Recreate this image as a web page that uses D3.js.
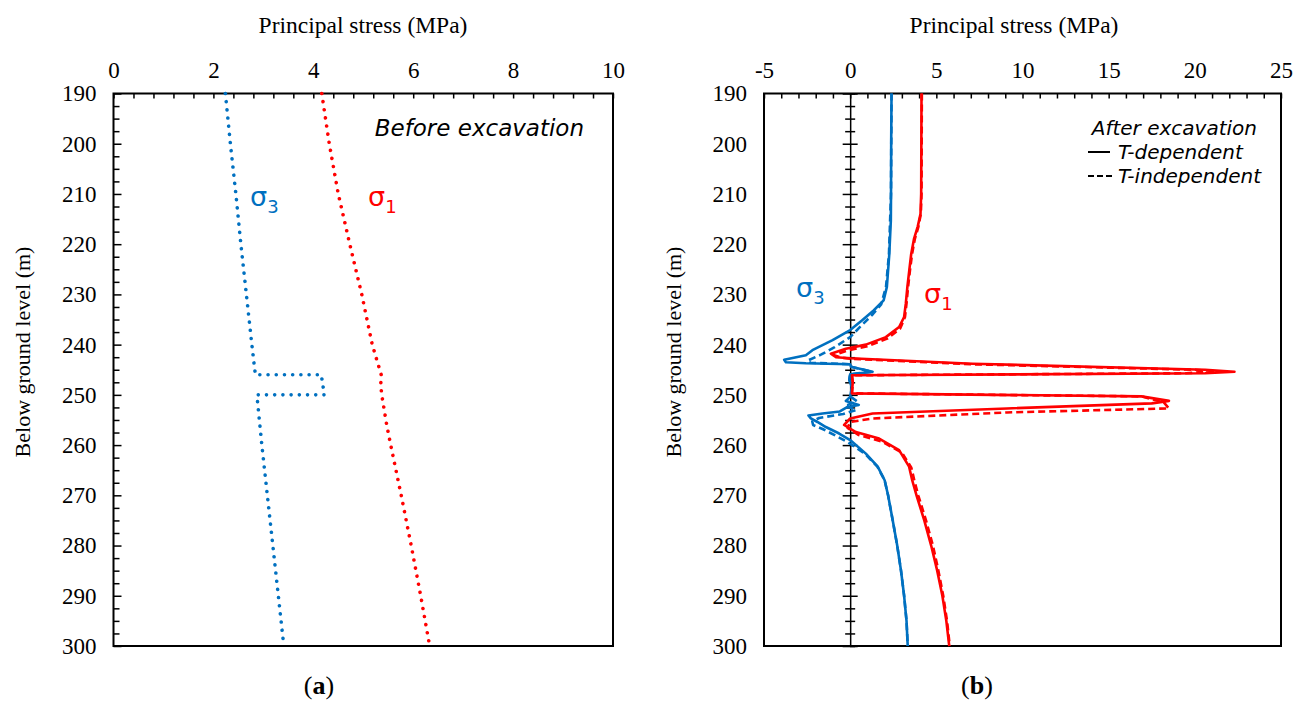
<!DOCTYPE html>
<html><head><meta charset="utf-8">
<script src="https://cdn.jsdelivr.net/npm/d3@7"></script>
<style>body{margin:0;background:#fff}svg{display:block}</style>
</head><body>
<script>
// ---------- data ----------
const depthTicks = [190,200,210,220,230,240,250,260,270,280,290,300];
const stressTicksA = [0,2,4,6,8,10];
const stressTicksB = [-5,0,5,10,15,20,25];

// (a) before excavation
const depthS3Before = [190,200,210,220,230,240,246,246,250,250,260,270,280,290,300];
const s3Before      = [2.24,2.34,2.45,2.55,2.66,2.77,2.84,4.16,4.22,2.87,2.97,3.08,3.19,3.30,3.41];
const depthS1Before = [190,200,210,220,230,240,246,248,250,256,260,270,280,290,300];
const s1Before      = [4.17,4.32,4.50,4.73,4.97,5.18,5.36,5.35,5.37,5.47,5.55,5.76,5.96,6.15,6.33];

// (b) after excavation
const depthS3Dep = [190,200,210,215.3,222,228.5,231.2,233.2,235.2,237.1,239.1,241.1,242.1,243.0,243.5,243.7,243.9,244.4,245.4,245.9,247,248.5,250.4,251.2,252,252.4,253.3,253.7,254.1,254.7,255.4,256.4,257.7,259,261.7,264.3,267,270,275,280,285,290,295,300];
const s3Dep      = [2.4,2.38,2.37,2.36,2.27,2.13,1.94,1.36,0.68,0.0,-1.02,-2.19,-2.57,-3.83,-3.73,-2.57,0.0,0.05,1.3,0.0,-0.05,0.1,0.0,-0.25,0.5,-0.15,-0.6,-1.6,-2.42,-2.28,-1.9,-1.41,-0.64,0.0,0.91,1.6,2.0,2.2,2.47,2.73,2.95,3.13,3.27,3.34];
const depthS3Indep = [190,210,222,228.5,232,234,236.2,238.5,240.5,242,243.2,243.6,243.9,244.4,245.4,245.9,247,248.5,250.4,251.3,252.2,253,253.8,254.6,255.3,256,256.8,258,259.5,261.7,264.3,267,270,275,280,285,290,295,300];
const s3Indep      = [2.4,2.37,2.25,2.08,1.8,1.3,0.65,0.0,-0.9,-1.7,-2.48,-2.3,0.0,0.05,1.25,0.0,-0.05,0.1,0.05,0.4,-0.3,0.35,-0.4,-1.8,-2.2,-2.15,-1.6,-0.9,-0.1,0.85,1.58,2.0,2.2,2.47,2.73,2.95,3.13,3.27,3.34];
const depthS1Dep = [190,200,210,214,216.5,219,222,225.2,228.5,231.8,234.5,236.5,238.5,240,240.8,241.8,242.5,242.7,243.8,245.0,245.4,245.7,246.1,247.5,249.7,250.3,251.2,251.7,252.7,253.7,254.7,256,257.4,258.7,261,264.3,267,270,275,280,285,290,295,300];
const s1Dep      = [4.14,4.13,4.12,4.08,3.92,3.7,3.54,3.43,3.32,3.23,3.13,2.84,2.07,0.91,-0.25,-1.12,-0.82,0.0,7.1,20.6,22.3,20.6,0.1,0.15,0.1,16.9,18.5,17.5,9.1,1.3,0.0,-0.35,0.33,1.68,2.84,3.42,3.6,3.85,4.3,4.7,5.05,5.35,5.58,5.75];
const depthS1Indep = [190,200,210,214,216.5,219,222,225.2,228.5,231.8,234.5,236.8,238.8,240.3,241.2,242.1,242.6,242.8,243.9,245.0,245.3,245.7,246.1,247.5,249.7,250.3,251.5,252.7,253.5,254.7,255.4,256.6,258,259.3,261.5,264.5,267,270,275,280,285,290,295,300];
const s1Indep      = [4.16,4.15,4.14,4.1,3.96,3.75,3.59,3.47,3.36,3.27,3.18,2.9,2.15,1.0,-0.2,-0.93,-0.5,0.0,7.0,20.0,21.2,19.5,0.1,0.15,0.1,16.9,18.2,18.5,9.1,1.3,0.0,-0.15,0.5,1.85,3.0,3.55,3.72,3.95,4.4,4.8,5.12,5.4,5.62,5.78];

// ---------- drawing ----------
const W = 1298, H = 702;
const BLUE = "#0070C0", RED = "#FF0000";
const SERIF = "'Liberation Serif','Times New Roman',serif";
const SANS = "'DejaVu Sans',Verdana,sans-serif";

const svg = d3.select("body").append("svg").attr("width", W).attr("height", H);

const y = d3.scaleLinear().domain([190,300]).range([93.5,646]);
const xA = d3.scaleLinear().domain([0,10]).range([113.5,613]);
const xB = d3.scaleLinear().domain([-5,25]).range([764,1281]);

function zip(d, v){ return d.map((dd,i)=>[v[i], dd]); }

function panel(x, majors, minorStep, title, cx){
  const g = svg.append("g");
  const [x0,x1] = x.range();
  const minors = d3.range(x.domain()[0], x.domain()[1] + 1e-9, minorStep);
  g.append("g").attr("transform",`translate(0,${y.range()[0]})`)
    .call(d3.axisTop(x).tickValues(minors).tickSize(-5).tickFormat(""))
    .call(s=>s.select(".domain").remove())
    .selectAll("line").attr("stroke","#000").attr("stroke-width",1.5);
  g.append("g").attr("transform",`translate(0,${y.range()[0]})`)
    .call(d3.axisTop(x).tickValues(majors).tickSize(0).tickPadding(16).tickFormat(d=>d))
    .call(s=>s.select(".domain").remove())
    .call(s=>s.selectAll("text").attr("font-family",SERIF).attr("font-size",23).attr("fill","#000"));
  g.append("g").attr("transform",`translate(${x0},0)`)
    .call(d3.axisLeft(y).tickValues(depthTicks).tickSize(0).tickPadding(17).tickFormat(d=>d))
    .call(s=>s.select(".domain").remove())
    .call(s=>s.selectAll("text").attr("font-family",SERIF).attr("font-size",23).attr("fill","#000"));
  g.append("text").attr("x",cx).attr("y",33).attr("text-anchor","middle")
    .attr("font-family",SERIF).attr("font-size",23.5).text(title);
  return g;
}

// Panel (a)
panel(xA, stressTicksA, 0.4, "Principal stress (MPa)", 363);
const minorDepth = d3.range(190, 300.001, 2.5);
svg.append("g").attr("transform",`translate(${xA.range()[0]},0)`)
  .call(d3.axisRight(y).tickValues(minorDepth).tickSize(6).tickFormat(""))
  .call(s=>s.select(".domain").remove())
  .call(s=>s.selectAll(".tick line").attr("stroke","#000").attr("stroke-width",1.5)
     .attr("x2",d=>depthTicks.includes(d)?8:6));
svg.append("rect").attr("x",xA.range()[0]).attr("y",y.range()[0])
  .attr("width",xA.range()[1]-xA.range()[0]).attr("height",y.range()[1]-y.range()[0])
  .attr("fill","none").attr("stroke","#000").attr("stroke-width",2);

const lineA = d3.line().x(d=>xA(d[0])).y(d=>y(d[1]));
svg.append("path").attr("d",lineA(zip(depthS3Before,s3Before))).attr("fill","none")
  .attr("stroke",BLUE).attr("stroke-width",3.6).attr("stroke-linecap","round").attr("stroke-dasharray","0.01 8.2");
svg.append("path").attr("d",lineA(zip(depthS1Before,s1Before))).attr("fill","none")
  .attr("stroke",RED).attr("stroke-width",3.6).attr("stroke-linecap","round").attr("stroke-dasharray","0.01 8.2");

svg.append("text").attr("x",584).attr("y",136).attr("text-anchor","end")
  .attr("font-family",SANS).attr("font-style","italic").attr("font-size",23).text("Before excavation");

function sigma(x0, yb, sub, color){
  const t = svg.append("text").attr("x",x0).attr("y",yb).attr("fill",color).attr("font-family",SANS).attr("font-size",27);
  t.append("tspan").text("σ");
  t.append("tspan").attr("font-size",18).attr("dy",7).text(sub);
}
sigma(250, 206, "3", BLUE);
sigma(368, 206, "1", RED);

// Panel (b)
panel(xB, stressTicksB, 1, "Principal stress (MPa)", 1014);
svg.append("g").attr("transform",`translate(${xB(0)},0)`)
  .call(d3.axisRight(y).tickValues(minorDepth).tickSize(5).tickFormat(""))
  .call(s=>s.select(".domain").attr("stroke","#000").attr("stroke-width",1.5))
  .call(s=>s.selectAll(".tick line").attr("stroke","#000").attr("stroke-width",1.5)
     .attr("x1",d=>depthTicks.includes(d)?-7.5:-5).attr("x2",d=>depthTicks.includes(d)?7.5:5));
svg.append("rect").attr("x",xB.range()[0]).attr("y",y.range()[0])
  .attr("width",xB.range()[1]-xB.range()[0]).attr("height",y.range()[1]-y.range()[0])
  .attr("fill","none").attr("stroke","#000").attr("stroke-width",2);

const lineB = d3.line().x(d=>xB(d[0])).y(d=>y(d[1]));
function path(d, v, color, dashed){
  svg.append("path").attr("d",lineB(zip(d,v))).attr("fill","none")
    .attr("stroke",color).attr("stroke-width",2.6).attr("stroke-linejoin","round")
    .attr("stroke-dasharray",dashed?"7 4":null);
}
path(depthS3Indep, s3Indep, BLUE, true);
path(depthS1Indep, s1Indep, RED, true);
path(depthS3Dep, s3Dep, BLUE, false);
path(depthS1Dep, s1Dep, RED, false);

sigma(796, 297, "3", BLUE);
sigma(924, 303, "1", RED);

// legend
svg.append("text").attr("x",1257).attr("y",135).attr("text-anchor","end")
  .attr("font-family",SANS).attr("font-style","italic").attr("font-size",20).text("After excavation");
svg.append("line").attr("x1",1088).attr("x2",1110).attr("y1",152).attr("y2",152).attr("stroke","#000").attr("stroke-width",2);
svg.append("text").attr("x",1118).attr("y",159).attr("font-family",SANS).attr("font-style","italic").attr("font-size",20).text("T-dependent");
svg.append("line").attr("x1",1088).attr("x2",1112).attr("y1",176).attr("y2",176).attr("stroke","#000").attr("stroke-width",2).attr("stroke-dasharray","6 3");
svg.append("text").attr("x",1118).attr("y",183).attr("font-family",SANS).attr("font-style","italic").attr("font-size",20).text("T-independent");

// y titles
[[22,352],[673,352]].forEach(([tx,ty])=>{
  svg.append("text").attr("transform",`translate(${tx},${ty}) rotate(-90)`).attr("text-anchor","middle")
    .attr("dy","0.35em").attr("font-family",SERIF).attr("font-size",22).text("Below ground level (m)");
});

// panel letters
[["a",319],["b",977]].forEach(([l,cx])=>{
  const t = svg.append("text").attr("x",cx).attr("y",694).attr("text-anchor","middle")
    .attr("font-family",SERIF).attr("font-size",26);
  t.append("tspan").text("(");
  t.append("tspan").attr("font-weight","bold").text(l);
  t.append("tspan").text(")");
});
</script>
</body></html>
